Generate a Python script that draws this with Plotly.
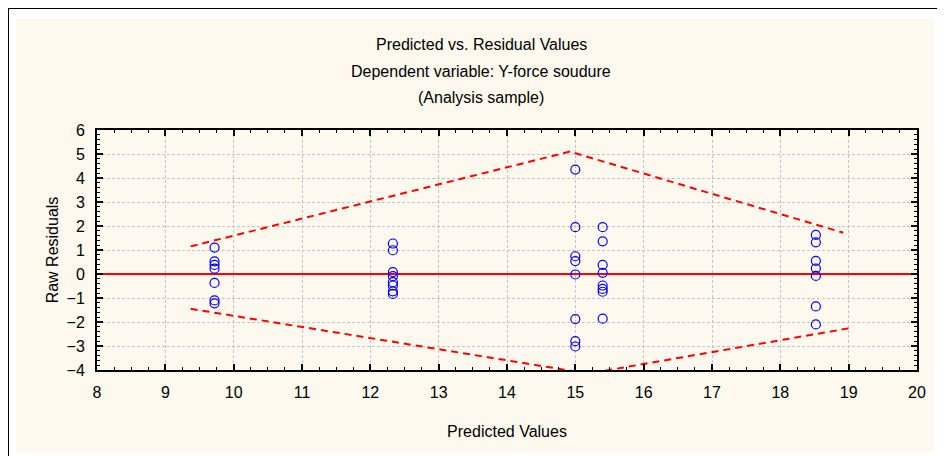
import plotly.graph_objects as go

# ---- data ----
pred_col1 = [9.72] * 7
resid_col1 = [1.1, 0.53, 0.38, 0.22, -0.37, -1.1, -1.22]
pred_col2 = [12.33] * 8
resid_col2 = [1.27, 0.99, 0.08, -0.09, -0.34, -0.48, -0.72, -0.83]
pred_col3 = [15.0] * 8
resid_col3 = [4.35, 1.95, 0.74, 0.54, -0.02, -1.88, -2.8, -3.02]
pred_col4 = [15.4] * 8
resid_col4 = [1.95, 1.36, 0.38, 0.05, -0.48, -0.62, -0.74, -1.86]
pred_col5 = [18.52] * 7
resid_col5 = [1.63, 1.32, 0.55, 0.23, -0.08, -1.35, -2.1]

upper_x = [9.37, 14.92, 18.92]
upper_y = [1.15, 5.1, 1.72]
lower_x = [9.37, 15.19, 19.05]
lower_y = [-1.45, -4.15, -2.24]

x_range = [8, 20]
y_range = [-4, 6]

title_lines = ["Predicted vs. Residual Values",
               "Dependent variable: Y-force soudure",
               "(Analysis sample)"]
x_title = "Predicted Values"
y_title = "Raw Residuals"

pred = pred_col1 + pred_col2 + pred_col3 + pred_col4 + pred_col5
resid = resid_col1 + resid_col2 + resid_col3 + resid_col4 + resid_col5

FONT = "Liberation Sans, Arial, sans-serif"
OFF = 8  # page body margin
W, H = 937, 448
L, R, T, B = 89, 28, 122, 86
PW, PH = W - L - R, H - T - B


def px(xp):  # page pixel -> paper x
    return (xp - OFF - L) / PW


def py(yp):  # page pixel -> paper y
    return (H - B - (yp - OFF)) / PH


fig = go.Figure()
fig.add_trace(go.Scatter(x=upper_x, y=upper_y, mode="lines",
                         line=dict(color="#ff0000", width=2, dash="7px,5px"),
                         hoverinfo="skip", showlegend=False))
fig.add_trace(go.Scatter(x=lower_x, y=lower_y, mode="lines",
                         line=dict(color="#ff0000", width=2, dash="7px,5px"),
                         hoverinfo="skip", showlegend=False))
fig.add_trace(go.Scatter(x=pred, y=resid, mode="markers",
                         marker=dict(symbol="circle-open", size=9,
                                     color="#0000ff", line=dict(width=1.2)),
                         showlegend=False, cliponaxis=False))

axis_common = dict(
    showline=True, linecolor="black", linewidth=2, mirror="ticks",
    ticks="inside", ticklen=6, tickwidth=1.5, tickcolor="black",
    showgrid=True, gridcolor="#c4c4c4", griddash="3px,2px", gridwidth=1,
    tickfont=dict(family=FONT, size=16, color="black"),
)

fig.update_xaxes(range=x_range, dtick=1, tick0=8, zeroline=False,
                 ticklabelstandoff=7,
                 minor=dict(dtick=0.25, ticks="inside", ticklen=3,
                            tickcolor="black", tickwidth=1, showgrid=False),
                 title=dict(text=x_title, font=dict(family=FONT, size=16, color="black"),
                            standoff=26),
                 **axis_common)
fig.update_yaxes(range=y_range, dtick=1, tick0=0,
                 zeroline=True, zerolinecolor="#ff0000", zerolinewidth=2,
                 ticklabelstandoff=7,
                 minor=dict(dtick=0.2, ticks="inside", ticklen=3,
                            tickcolor="black", tickwidth=1, showgrid=False),
                 title=dict(text=y_title, font=dict(family=FONT, size=16, color="black"),
                            standoff=4),
                 **axis_common)

shapes = [
    dict(type="rect", xref="paper", yref="paper", layer="below",
         x0=px(16), x1=px(934), y0=py(452), y1=py(19),
         fillcolor="#fdf9ee", line=dict(width=0)),
    dict(type="line", xref="paper", yref="paper",
         x0=px(8), x1=px(8), y0=py(456), y1=py(8),
         line=dict(color="black", width=2)),
    dict(type="line", xref="paper", yref="paper",
         x0=px(7), x1=px(940), y0=py(8), y1=py(8),
         line=dict(color="black", width=2)),
]

annotations = []
for txt, yp in zip(title_lines, [45, 71, 97]):
    annotations.append(dict(text=txt, xref="paper", yref="paper",
                            x=px(481), y=py(yp), showarrow=False,
                            xanchor="center", yanchor="middle",
                            font=dict(family=FONT, size=16, color="black")))

fig.update_layout(
    width=W, height=H,
    margin=dict(l=L, r=R, t=T, b=B),
    paper_bgcolor="white", plot_bgcolor="white",
    shapes=shapes, annotations=annotations,
    font=dict(family=FONT, size=16, color="black"),
)

fig.write_html("out.html")
